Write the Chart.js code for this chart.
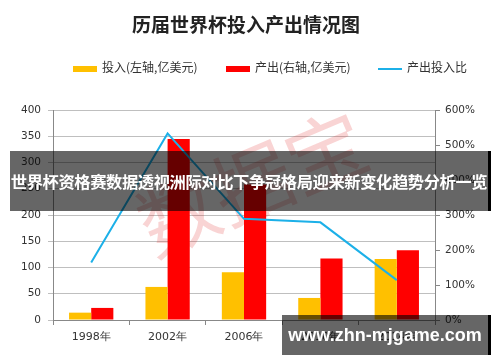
<!DOCTYPE html>
<html><head><meta charset="utf-8">
<script src="https://cdn.jsdelivr.net/npm/chart.js@4/dist/chart.umd.min.js"></script>
<style>
html,body{margin:0;padding:0;background:#fff;}
#wrap{position:relative;width:500px;height:362px;overflow:hidden;font-family:"Noto Sans CJK SC","DejaVu Sans",sans-serif;}
canvas{position:absolute;left:0;top:0;}
#title{position:absolute;left:0;width:492px;top:10px;text-align:center;font-size:19px;font-weight:bold;color:#222;line-height:28px;}
.lg{position:absolute;top:58px;font-size:12px;color:#333;line-height:18px;white-space:nowrap;}
.sw{display:inline-block;width:24px;vertical-align:middle;margin-right:5px;}
#banner{position:absolute;left:10px;top:151px;width:478px;height:60px;background:rgba(0,0,0,0.6);border-right:3px solid #000;color:#fff;font-weight:bold;font-size:16.3px;line-height:60px;text-align:center;white-space:nowrap;letter-spacing:-0.4px;}
#wm{position:absolute;left:282px;top:315px;width:206px;height:40px;background:rgba(0,0,0,0.6);border-right:3px solid #000;color:#fff;font-weight:bold;font-size:18px;line-height:40px;text-align:center;font-family:"Liberation Sans",Arial,sans-serif;}
</style></head>
<body><div id="wrap">
<canvas id="c" width="500" height="362"></canvas>
<div id="title">历届世界杯投入产出情况图</div>
<div class="lg" style="left:73px"><span class="sw" style="height:6px;background:#FFC000"></span>投入(左轴,亿美元)</div>
<div class="lg" style="left:226px"><span class="sw" style="height:6px;background:#FF0000"></span>产出(右轴,亿美元)</div>
<div class="lg" style="left:378px"><span class="sw" style="height:2px;background:#1CB0E8"></span>产出投入比</div>
<div id="banner">世界杯资格赛数据透视洲际对比下争冠格局迎来新变化趋势分析一览</div>
<div id="wm">www.zhn-mjgame.com</div>
</div>
<script>
const categories = ["1998年","2002年","2006年","2010年","2014年"];
const inputValues = [14, 63, 91, 42, 116];
const outputValues = [23, 345, 258, 117, 133];
const ratioValues = [164, 533, 289, 279, 114];
const leftTicks = {min:0, max:400, step:50};
const rightTicks = {min:0, max:600, step:100};

const stamp = {
  id:'stamp',
  beforeDatasetsDraw(chart){
    const ctx = chart.ctx;
    ctx.save();
    ctx.translate(252,183);
    ctx.rotate(-0.4);
    ctx.fillStyle='rgba(225,40,40,0.2)';
    ctx.font='80px "Noto Sans CJK SC"';
    ctx.textAlign='center';ctx.textBaseline='middle';
    ctx.fillText('数据宝',0,0);
    ctx.restore();
  }
};

new Chart(document.getElementById('c'),{
  type:'bar',
  data:{labels:categories,datasets:[
    {label:'投入(左轴,亿美元)',data:inputValues,yAxisID:'y',backgroundColor:'#FFC000',order:1,categoryPercentage:0.58,barPercentage:1},
    {label:'产出(右轴,亿美元)',data:outputValues,yAxisID:'y',backgroundColor:'#FF0000',order:1,categoryPercentage:0.58,barPercentage:1},
    {type:'line',label:'产出投入比',data:ratioValues,yAxisID:'y1',borderColor:'#1CB0E8',borderWidth:2,pointRadius:0,tension:0,fill:false,order:0}
  ]},
  options:{
    responsive:false,animation:false,
    layout:{padding:{top:110,left:0,right:0,bottom:0}},
    plugins:{legend:{display:false},title:{display:false},tooltip:{enabled:false}},
    scales:{
      x:{grid:{drawOnChartArea:false,tickLength:5,color:'#888',offset:true},border:{color:'#888'},
         ticks:{color:'#333',font:{family:'DejaVu Sans',size:11},padding:6},
         afterFit(s){s.height=42;}},
      y:{position:'left',min:leftTicks.min,max:leftTicks.max,
         ticks:{stepSize:leftTicks.step,color:'#333',font:{family:'DejaVu Sans',size:10.5},padding:7},
         grid:{color:'#bfbfbf',tickLength:5},border:{color:'#888'},
         afterFit(s){s.width=53;}},
      y1:{position:'right',min:rightTicks.min,max:rightTicks.max,
         ticks:{stepSize:rightTicks.step,color:'#333',font:{family:'DejaVu Sans',size:10.5},padding:5,callback:v=>v+'%'},
         grid:{drawOnChartArea:false,tickLength:5,color:'#888'},border:{color:'#888'},
         afterFit(s){s.width=65;}}
    }
  },
  plugins:[stamp]
});
</script>
</body></html>
